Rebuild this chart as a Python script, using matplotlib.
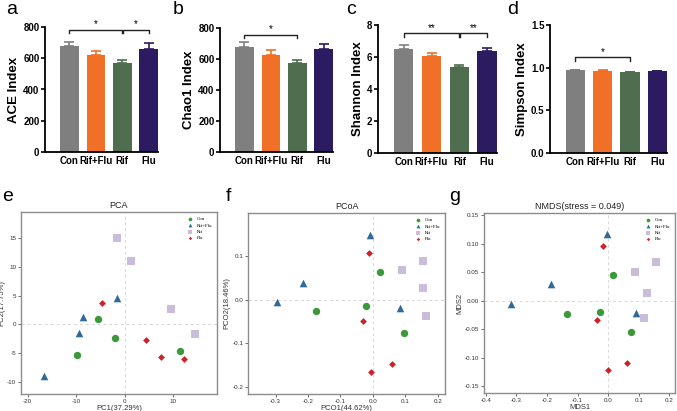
import matplotlib
matplotlib.use('Agg')
import matplotlib.pyplot as plt
import numpy as np

GROUPS = ['Con', 'Rif+Flu', 'Rif', 'Flu']
BAR_COLORS = ['#7f7f7f', '#f07028', '#4f6e4f', '#2d1b62']

ace = [677, 623, 569, 661]
ace_err = [27, 21, 22, 36]
chao1 = [675, 628, 574, 665]
chao1_err = [33, 28, 17, 32]
shannon = [6.53, 6.05, 5.39, 6.37]
shannon_err = [0.25, 0.23, 0.10, 0.21]
simpson = [0.968, 0.960, 0.945, 0.957]
simpson_err = [0.008, 0.008, 0.006, 0.005]

# scatter data, 4 samples per group
pca_x = {'Con': [-5.5, -2.0, -9.9, 11.5], 'Rif+Flu': [-16.6, -9.5, -8.5, -1.6],
         'Rif': [-1.6, 1.4, 9.5, 14.5], 'Flu': [-4.7, 4.4, 7.5, 12.2]}
pca_y = {'Con': [0.9, -2.3, -5.4, -4.6], 'Rif+Flu': [-8.9, -1.5, 1.2, 4.5],
         'Rif': [14.9, 11.0, 2.7, -1.6], 'Flu': [3.7, -2.8, -5.6, -6.0]}
pcoa_x = {'Con': [0.023, -0.021, -0.174, 0.096], 'Rif+Flu': [-0.008, -0.216, -0.295, 0.084],
          'Rif': [0.154, 0.089, 0.153, 0.164], 'Flu': [-0.013, -0.032, 0.058, -0.006]}
pcoa_y = {'Con': [0.062, -0.014, -0.025, -0.077], 'Rif+Flu': [0.147, 0.037, -0.005, -0.020],
          'Rif': [0.087, 0.067, 0.026, -0.037], 'Flu': [0.107, -0.048, -0.146, -0.166]}
nmds_x = {'Con': [0.015, -0.027, -0.135, 0.075], 'Rif+Flu': [-0.003, -0.187, -0.317, 0.093],
          'Rif': [0.156, 0.089, 0.127, 0.118], 'Flu': [-0.018, -0.036, 0.062, 0.0]}
nmds_y = {'Con': [0.045, -0.020, -0.024, -0.055], 'Rif+Flu': [0.117, 0.030, -0.005, -0.022],
          'Rif': [0.068, 0.051, 0.013, -0.031], 'Flu': [0.096, -0.033, -0.109, -0.122]}

SC_COLORS = {'Con': '#3a9a3a', 'Rif+Flu': '#2f6a9a', 'Rif': '#c9bddb', 'Flu': '#d0202a'}
SC_MARKERS = {'Con': 'o', 'Rif+Flu': '^', 'Rif': 's', 'Flu': 'D'}
SC_SIZES = {'Con': 28, 'Rif+Flu': 30, 'Rif': 26, 'Flu': 12}

W, H = 677, 411
fig = plt.figure(figsize=(W / 100, H / 100), dpi=100)
plt.rcParams['font.family'] = ['Liberation Sans', 'DejaVu Sans']


def px_axes(l, t, r, b):
    return fig.add_axes([l / W, (H - b) / H, (r - l) / W, (b - t) / H])


def bar_panel(box, vals, errs, ylab, ymax, ystep, brackets, letter, lpos):
    ax = px_axes(*box)
    x = np.arange(len(GROUPS))
    ax.bar(x, vals, width=0.7, color=BAR_COLORS, zorder=2)
    for i in range(len(x)):
        ax.errorbar(x[i], vals[i], yerr=[[0], [errs[i]]], color=BAR_COLORS[i],
                    capsize=3.5, elinewidth=1.2, capthick=1.2, zorder=1)
    ax.set_xlim(-0.92, 3.35)
    ax.set_ylim(0, ymax)
    ax.set_yticks(np.arange(0, ymax + ystep / 2, ystep))
    if ystep < 1:
        ax.set_yticklabels([f'{v:.1f}' for v in np.arange(0, ymax + ystep / 2, ystep)])
    ax.set_xticks(x)
    ax.set_xticklabels(GROUPS)
    for s in ['top', 'right']:
        ax.spines[s].set_visible(False)
    for s in ['left', 'bottom']:
        ax.spines[s].set_linewidth(1.3)
    ax.tick_params(axis='y', length=3, width=1.2, labelsize=7, pad=1)
    ax.tick_params(axis='x', length=0, labelsize=7, pad=3)
    for lab in ax.get_xticklabels() + ax.get_yticklabels():
        lab.set_fontweight('bold')
    ax.set_ylabel(ylab, fontsize=9.5, fontweight='bold', labelpad=2)
    tick = ymax * 0.025
    for (i, j, yb, txt) in brackets:
        ax.plot([i, i, j, j], [yb - tick, yb, yb, yb - tick], color='#222222', lw=1, clip_on=False)
        ax.text((i + j) / 2, yb + ymax * 0.003, txt, ha='center', va='bottom', fontsize=7)
    fig.text(lpos[0] / W, 1 - lpos[1] / H, letter, fontsize=14, va='top', ha='left')
    return ax


bar_panel((45, 27, 158, 152), ace, ace_err, 'ACE Index', 800, 200,
          [(0, 1.98, 782, '*'), (2.02, 3, 782, '*')], 'a', (6, 1))
bar_panel((220, 28, 333, 152), chao1, chao1_err, 'Chao1 Index', 800, 200,
          [(0, 2, 757, '*')], 'b', (173, 1))
bar_panel((378, 25, 497, 153), shannon, shannon_err, 'Shannon Index', 8, 2,
          [(0, 1.98, 7.47, '**'), (2.02, 3, 7.47, '**')], 'c', (346, 1))
bar_panel((550, 25, 667, 153), simpson, simpson_err, 'Simpson Index', 1.5, 0.5,
          [(0, 2, 1.12, '*')], 'd', (507, 1))


def scatter_panel(box, xs, ys, xlim, ylim, xticks, yticks, xfmt, yfmt,
                  title, xlab, ylab, letter, lpos):
    ax = px_axes(*box)
    ax.axhline(0, color='#d8d8d8', lw=0.7, ls=(0, (3, 3)), zorder=0)
    ax.axvline(0, color='#d8d8d8', lw=0.7, ls=(0, (3, 3)), zorder=0)
    for g in GROUPS:
        ax.scatter(xs[g], ys[g], s=SC_SIZES[g], marker=SC_MARKERS[g],
                   color=SC_COLORS[g], linewidths=0, label=g, zorder=3)
    ax.set_xlim(*xlim)
    ax.set_ylim(*ylim)
    ax.set_xticks(xticks)
    ax.set_yticks(yticks)
    ax.set_xticklabels([xfmt.format(v) for v in xticks])
    ax.set_yticklabels([yfmt.format(v) for v in yticks])
    for s in ax.spines.values():
        s.set_color('#8c8c8c')
        s.set_linewidth(1)
    ax.tick_params(length=2, width=0.6, color='#555555', labelsize=4.5,
                   labelcolor='#333333', pad=1.5)
    ax.set_title(title, fontsize=6.5, color='#222222', pad=3)
    ax.set_xlabel(xlab, fontsize=5.5, color='#333333', labelpad=1)
    ax.set_ylabel(ylab, fontsize=5.5, color='#333333', labelpad=1)
    ax.legend(loc='upper right', frameon=False, markerscale=0.5,
              handletextpad=0.3, labelspacing=0.4, borderaxespad=0.6,
              prop={'family': 'Liberation Serif', 'size': 3.5})
    fig.text(lpos[0] / W, 1 - lpos[1] / H, letter, fontsize=14, va='top', ha='left')
    return ax


scatter_panel((21, 212, 217, 394), pca_x, pca_y, (-21.4, 19.1), (-12.1, 19.5),
              [-20, -10, 0, 10], [-10, -5, 0, 5, 10, 15], '{:g}', '{:g}',
              'PCA', 'PC1(37.29%)', 'PC2(17.75%)', 'e', (2, 188))
scatter_panel((248, 213, 445, 394), pcoa_x, pcoa_y, (-0.385, 0.222), (-0.215, 0.197),
              [-0.3, -0.2, -0.1, 0.0, 0.1, 0.2], [-0.2, -0.1, 0.0, 0.1], '{:.1f}', '{:.1f}',
              'PCoA', 'PCO1(44.62%)', 'PCO2(18.46%)', 'f', (226, 188))
scatter_panel((484, 213, 675, 393), nmds_x, nmds_y, (-0.406, 0.219), (-0.162, 0.154),
              [-0.4, -0.3, -0.2, -0.1, 0.0, 0.1, 0.2], [-0.15, -0.10, -0.05, 0.0, 0.05, 0.10, 0.15],
              '{:.1f}', '{:.2f}',
              'NMDS(stress = 0.049)', 'MDS1', 'MDS2', 'g', (449, 188))

fig.savefig('out.png', dpi=100)
